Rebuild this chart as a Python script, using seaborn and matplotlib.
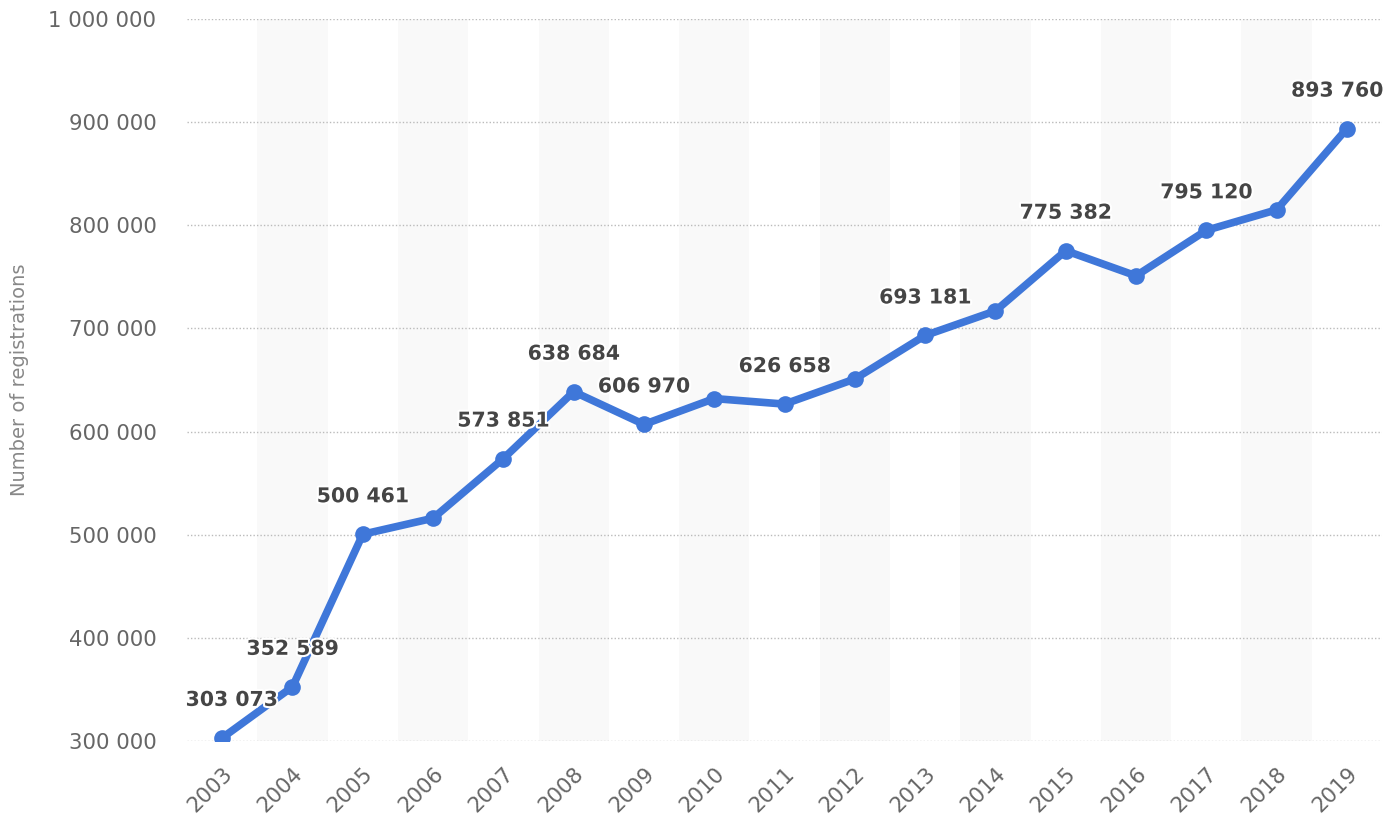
import matplotlib
matplotlib.use("Agg")
import matplotlib.pyplot as plt
import matplotlib.patheffects as pe
import pandas as pd
import seaborn as sns

# ------------------------------------------
# Data
# ------------------------------------------
years = [str(y) for y in range(2003, 2020)]
registrations = [303073, 352589, 500461, 516000, 573851, 638684, 606970, 632000,
                 626658, 651000, 693181, 717000, 775382, 751000, 795120, 815000, 893760]
labelled = ["2003", "2004", "2005", "2007", "2008", "2009", "2011", "2013",
            "2015", "2017", "2019"]
y_ticks = [300000, 400000, 500000, 600000, 700000, 800000, 900000, 1000000]

df = pd.DataFrame({"Year": years, "Registrations": registrations})

# ------------------------------------------
# Figure
# ------------------------------------------
sns.set_style("white")
plt.rcParams["font.family"] = ["DejaVu Sans"]

fig = plt.figure(figsize=(13.98, 8.36), dpi=100)
ax = fig.add_axes([0.1338, 0.1136, 0.8548, 0.8637])

# alternating column bands
for i in range(len(years)):
    if i % 2 == 1:
        ax.axvspan(i - 0.5, i + 0.5, color="#f9f9f9", zorder=0, lw=0)

sns.lineplot(data=df, x="Year", y="Registrations", ax=ax, color="#3f77d9",
             linewidth=5.5, marker="o", markersize=12, markeredgewidth=0,
             sort=False, zorder=3)

# value labels (first and last kept inside the plot area)
for i, (yr, v) in enumerate(zip(years, registrations)):
    if yr in labelled:
        dx = 7 if i == 0 else (-7 if i == len(years) - 1 else 0)
        ax.annotate(f"{v:,}".replace(",", " "), (i, v), xytext=(dx, 27),
                    textcoords="offset points", ha="center", va="center",
                    fontsize=14.7, fontweight="bold", color="#454545", zorder=5,
                    path_effects=[pe.withStroke(linewidth=3, foreground="white")])

ax.set_xlim(-0.5, len(years) - 0.5)
ax.set_ylim(300000, 1000000)
ax.set_yticks(y_ticks)
ax.set_yticklabels([f"{t:,}".replace(",", " ") for t in y_ticks])
ax.yaxis.grid(True, linestyle=(0, (1, 1.5)), color="#bbbbbb", linewidth=1)
ax.set_axisbelow(True)
for s in ax.spines.values():
    s.set_visible(False)

ax.tick_params(axis="y", length=0, pad=22, labelsize=15.3, labelcolor="#666666")
ax.tick_params(axis="x", length=0, pad=16, labelsize=15.3, labelcolor="#666666")
plt.setp(ax.get_xticklabels(), rotation=45, ha="right", rotation_mode="anchor")

ax.set_xlabel("")
ax.set_ylabel("Number of registrations", fontsize=14, color="#888888")
ax.yaxis.set_label_coords(-0.1325, 0.5)

fig.savefig("out.png", dpi=100)
